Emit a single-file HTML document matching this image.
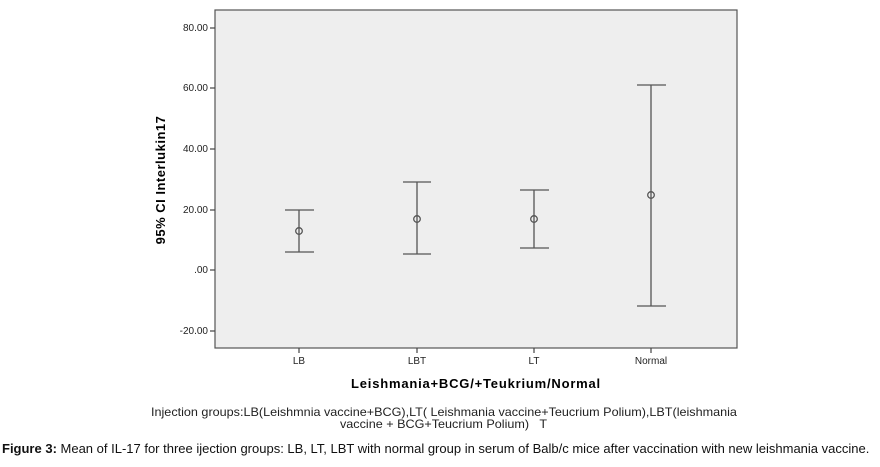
<!DOCTYPE html>
<html><head><style>
body{margin:0;width:880px;height:467px;background:#fff;overflow:hidden;font-family:"Liberation Sans",Arial,sans-serif;}
.cap{position:absolute;white-space:nowrap;transform-origin:0 0;}
</style></head><body>
<svg width="880" height="400" style="position:absolute;left:0;top:0" font-family="Liberation Sans, Arial, sans-serif">
<rect x="215" y="10" width="522" height="338" fill="#eeeeee" stroke="#555" stroke-width="1.2"/>
<g stroke="#444" stroke-width="1.2">
<line x1="210" y1="28" x2="215" y2="28"/><line x1="210" y1="88" x2="215" y2="88"/><line x1="210" y1="149" x2="215" y2="149"/><line x1="210" y1="210" x2="215" y2="210"/><line x1="210" y1="270" x2="215" y2="270"/><line x1="210" y1="331" x2="215" y2="331"/>
<line x1="299" y1="348" x2="299" y2="353"/><line x1="417" y1="348" x2="417" y2="353"/><line x1="534" y1="348" x2="534" y2="353"/><line x1="651" y1="348" x2="651" y2="353"/>
</g>
<g font-size="10" fill="#222" text-anchor="end">
<text x="208" y="31">80.00</text><text x="208" y="91">60.00</text><text x="208" y="152">40.00</text><text x="208" y="213">20.00</text><text x="208" y="273">.00</text><text x="208" y="334">-20.00</text>
</g>
<g font-size="10" fill="#222" text-anchor="middle">
<text x="299" y="364">LB</text><text x="417" y="364">LBT</text><text x="534" y="364">LT</text><text x="651" y="364">Normal</text>
</g>
<text x="476" y="388" font-size="13" font-weight="bold" text-anchor="middle" letter-spacing="0.8">Leishmania+BCG/+Teukrium/Normal</text>
<text transform="translate(165,180) rotate(-90)" font-size="13" font-weight="bold" text-anchor="middle" letter-spacing="0.5">95% CI Interlukin17</text>
<g stroke="#555" stroke-width="1.3" fill="none">
<line x1="299" y1="210" x2="299" y2="252"/><line x1="285" y1="210" x2="314" y2="210"/><line x1="285" y1="252" x2="314" y2="252"/><circle cx="299" cy="231" r="3.3"/>
<line x1="417" y1="182" x2="417" y2="254"/><line x1="403" y1="182" x2="431" y2="182"/><line x1="403" y1="254" x2="431" y2="254"/><circle cx="417" cy="219" r="3.3"/>
<line x1="534" y1="190" x2="534" y2="248"/><line x1="520" y1="190" x2="549" y2="190"/><line x1="520" y1="248" x2="549" y2="248"/><circle cx="534" cy="219" r="3.3"/>
<line x1="651" y1="85" x2="651" y2="306"/><line x1="637" y1="85" x2="666" y2="85"/><line x1="637" y1="306" x2="666" y2="306"/><circle cx="651" cy="195" r="3.3"/>
</g>
</svg>
<div class="cap" style="left:151px;top:405px;font-size:12px;color:#222;transform:scaleX(1.05)">Injection groups:LB(Leishmnia vaccine+BCG),LT( Leishmania vaccine+Teucrium Polium),LBT(leishmania</div>
<div class="cap" style="left:340px;top:417px;font-size:12px;color:#222;transform:scaleX(1.05)">vaccine + BCG+Teucrium Polium) &nbsp; T</div>
<div class="cap" style="left:2px;top:441px;font-size:13px;color:#111;transform:scaleX(1.0)"><b>Figure 3:</b> Mean of IL-17 for three ijection groups: LB, LT, LBT with normal group in serum of Balb/c mice after vaccination with new leishmania vaccine.</div>
</body></html>
